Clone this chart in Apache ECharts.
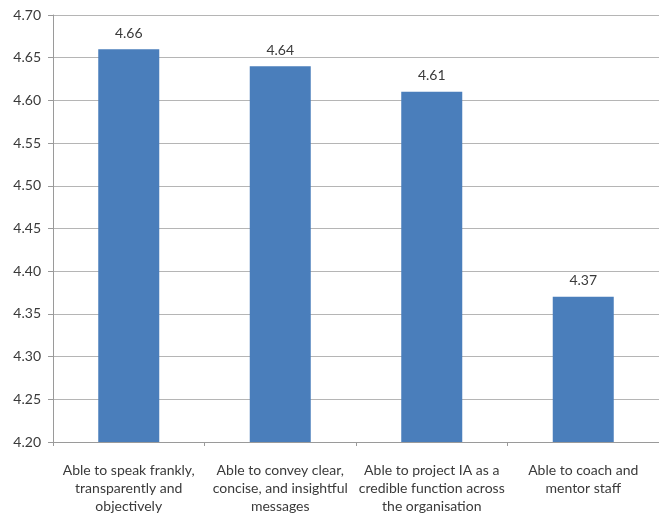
<!doctype html>
<html>
<head>
<meta charset="UTF-8">
<title>Bar chart</title>
<script src="https://cdn.jsdelivr.net/npm/echarts@6/dist/echarts.min.js"></script>
<style>
  html, body { margin: 0; padding: 0; background: #fff; }
  #main { width: 659px; height: 515px; }
</style>
</head>
<body>
<div id="main"></div>
<script>
var categories = [
  'Able to speak frankly,\ntransparently and\nobjectively',
  'Able to convey clear,\nconcise, and insightful\nmessages',
  'Able to project IA as a\ncredible function across\nthe organisation',
  'Able to coach and\nmentor staff'
];
var scores = [4.66, 4.64, 4.61, 4.37];

var myChart = echarts.init(document.getElementById('main'));

var option = {
  animation: false,
  textStyle: { fontFamily: 'Lato, sans-serif' },
  grid: { left: 53, width: 610, top: 15, bottom: 73, containLabel: false },
  xAxis: {
    type: 'category',
    data: categories,
    axisLine: { lineStyle: { color: '#9a9a9a' } },
    axisTick: { show: true, length: 4, lineStyle: { color: '#9a9a9a' } },
    axisLabel: { color: '#3a3a3a', fontSize: 14, lineHeight: 18, margin: 19, interval: 0 }
  },
  yAxis: {
    type: 'value',
    min: 4.20,
    max: 4.70,
    interval: 0.05,
    axisLine: { show: true, lineStyle: { color: '#9a9a9a' } },
    axisTick: { show: true, length: 5, lineStyle: { color: '#9a9a9a' } },
    axisLabel: {
      color: '#3a3a3a', fontSize: 14, margin: 12,
      formatter: function (v) { return v.toFixed(2); }
    },
    splitLine: { lineStyle: { color: '#b5b5b5' } }
  },
  series: [{
    type: 'bar',
    data: scores,
    barWidth: 61,
    itemStyle: { color: '#4a7ebb' },
    label: {
      show: true,
      position: 'top',
      distance: 9,
      color: '#3a3a3a',
      fontSize: 14,
      formatter: function (p) { return p.value.toFixed(2); }
    }
  }]
};

myChart.setOption(option);
</script>
</body>
</html>
